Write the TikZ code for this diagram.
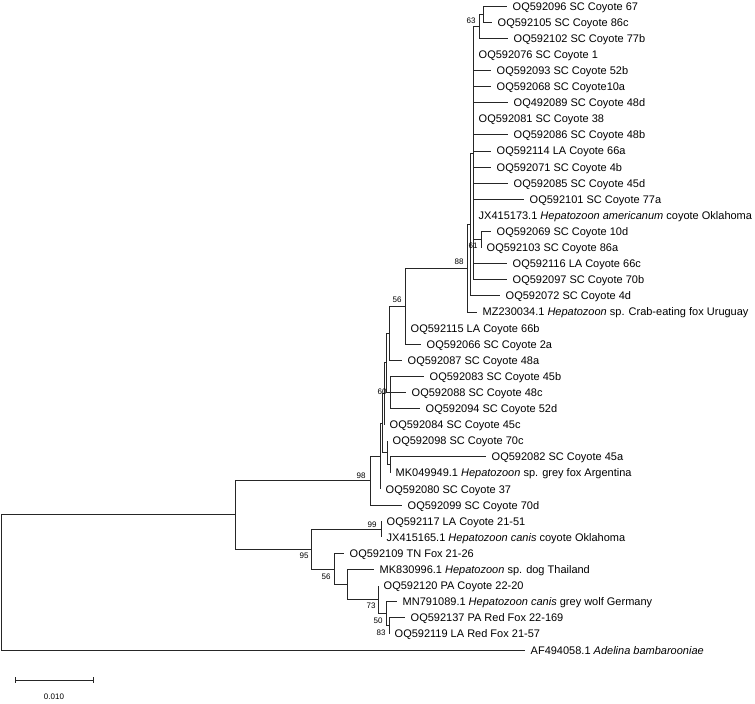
\documentclass[tikz,border=0pt]{standalone}
\usepackage{fontspec}
\setmainfont{Liberation Sans}
\begin{document}
\begin{tikzpicture}[x=1pt,y=-1pt,
  br/.style={line width=0.75pt, draw=black!85},
  leaf/.style={anchor=west, inner xsep=5.5pt, inner ysep=0pt, text height=8pt, text depth=0pt, font=\fontsize{11}{13}\selectfont},
  bs/.style={inner sep=0pt, font=\fontsize{8}{9}\selectfont}]
\useasboundingbox (0,0) rectangle (755,704);
% internal nodes
\coordinate (na) at (483,14.05);
\coordinate (n63) at (479,26.1);
\coordinate (n61) at (481,239.45);
\coordinate (N1) at (473,152.9);
\coordinate (N0) at (470,224.35);
\coordinate (N88) at (467,268.1);
\coordinate (U56) at (405,306.1);
\coordinate (V) at (389,333.15);
\coordinate (n60) at (390,392.4);
\coordinate (W) at (386,362.8);
\coordinate (X) at (384,393.7);
\coordinate (D) at (390,464.85);
\coordinate (E) at (387,452.8);
\coordinate (F) at (382,423.25);
\coordinate (C) at (380,456.1);
\coordinate (A98) at (370,480.6);
\coordinate (N83) at (389,625.85);
\coordinate (N50) at (386,613.8);
\coordinate (N73) at (378,599.7);
\coordinate (NX) at (347,584.6);
\coordinate (N56b) at (334,569.0);
\coordinate (N99) at (381,529.25);
\coordinate (B95) at (311,549.1);
\coordinate (I) at (235,514.85);
\coordinate (R) at (1,582.4);
% leaves
\node[leaf] (L1) at (507,6.0) {OQ592096 SC Coyote 67};
\node[leaf] (L2) at (492,22.1) {OQ592105 SC Coyote 86c};
\node[leaf] (L3) at (508,38.2) {OQ592102 SC Coyote 77b};
\node[leaf] (L4) at (473,54.3) {OQ592076 SC Coyote 1};
\node[leaf] (L5) at (491,70.4) {OQ592093 SC Coyote 52b};
\node[leaf] (L6) at (491,86.5) {OQ592068 SC Coyote10a};
\node[leaf] (L7) at (508,102.6) {OQ492089 SC Coyote 48d};
\node[leaf] (L8) at (473,118.7) {OQ592081 SC Coyote 38};
\node[leaf] (L9) at (508,134.8) {OQ592086 SC Coyote 48b};
\node[leaf] (L10) at (491,150.9) {OQ592114 LA Coyote 66a};
\node[leaf] (L11) at (491,167.0) {OQ592071 SC Coyote 4b};
\node[leaf] (L12) at (508,183.1) {OQ592085 SC Coyote 45d};
\node[leaf] (L13) at (524,199.2) {OQ592101 SC Coyote 77a};
\node[leaf] (L14) at (473,215.3) {JX415173.1 \textit{Hepatozoon americanum} coyote Oklahoma};
\node[leaf] (L15) at (491,231.4) {OQ592069 SC Coyote 10d};
\node[leaf] (L16) at (481,247.5) {OQ592103 SC Coyote 86a};
\node[leaf] (L17) at (507,263.6) {OQ592116 LA Coyote 66c};
\node[leaf] (L18) at (507,279.7) {OQ592097 SC Coyote 70b};
\node[leaf] (L19) at (500,295.8) {OQ592072 SC Coyote 4d};
\node[leaf] (L20) at (477,311.9) {MZ230034.1 \textit{Hepatozoon} sp. Crab-eating fox Uruguay};
\node[leaf] (L21) at (405,328.0) {OQ592115 LA Coyote 66b};
\node[leaf] (L22) at (421,344.1) {OQ592066 SC Coyote 2a};
\node[leaf] (L23) at (402,360.2) {OQ592087 SC Coyote 48a};
\node[leaf] (L24) at (424,376.3) {OQ592083 SC Coyote 45b};
\node[leaf] (L25) at (406,392.4) {OQ592088 SC Coyote 48c};
\node[leaf] (L26) at (420,408.5) {OQ592094 SC Coyote 52d};
\node[leaf] (L27) at (384,424.6) {OQ592084 SC Coyote 45c};
\node[leaf] (L28) at (387,440.7) {OQ592098 SC Coyote 70c};
\node[leaf] (L29) at (486,456.8) {OQ592082 SC Coyote 45a};
\node[leaf] (L30) at (390,472.9) {MK049949.1 \textit{Hepatozoon} sp. grey fox Argentina};
\node[leaf] (L31) at (380,489.0) {OQ592080 SC Coyote 37};
\node[leaf] (L32) at (402,505.1) {OQ592099 SC Coyote 70d};
\node[leaf] (L33) at (381,521.2) {OQ592117 LA Coyote 21-51};
\node[leaf] (L34) at (381,537.3) {JX415165.1 \textit{Hepatozoon canis} coyote Oklahoma};
\node[leaf] (L35) at (344,553.4) {OQ592109 TN Fox 21-26};
\node[leaf] (L36) at (374,569.5) {MK830996.1 \textit{Hepatozoon} sp. dog Thailand};
\node[leaf] (L37) at (378,585.6) {OQ592120 PA Coyote 22-20};
\node[leaf] (L38) at (397,601.7) {MN791089.1 \textit{Hepatozoon canis} grey wolf Germany};
\node[leaf] (L39) at (405,617.8) {OQ592137 PA Red Fox 22-169};
\node[leaf] (L40) at (389,633.9) {OQ592119 LA Red Fox 21-57};
\node[leaf] (L41) at (525,650.0) {AF494058.1 \textit{Adelina bambarooniae}};
% branches
\draw[br] (na) |- (L1.west); \draw[br] (na) |- (L2.west);
\draw[br] (n63) |- (na); \draw[br] (n63) |- (L3.west);
\draw[br] (N1) |- (n63);
\foreach \i in {4,...,14,17,18} {\draw[br] (N1) |- (L\i.west);}
\draw[br] (N1) |- (n61);
\draw[br] (n61) |- (L15.west); \draw[br] (n61) |- (L16.west);
\draw[br] (N0) |- (N1); \draw[br] (N0) |- (L19.west);
\draw[br] (N88) |- (N0); \draw[br] (N88) |- (L20.west);
\draw[br] (U56) |- (N88); \draw[br] (U56) |- (L21.west); \draw[br] (U56) |- (L22.west);
\draw[br] (V) |- (U56); \draw[br] (V) |- (L23.west);
\draw[br] (n60) |- (L24.west); \draw[br] (n60) |- (L25.west); \draw[br] (n60) |- (L26.west);
\draw[br] (W) |- (V); \draw[br] (W) |- (n60);
\draw[br] (X) |- (W); \draw[br] (X) |- (L27.west);
\draw[br] (D) |- (L29.west); \draw[br] (D) |- (L30.west);
\draw[br] (E) |- (L28.west); \draw[br] (E) |- (D);
\draw[br] (F) |- (X); \draw[br] (F) |- (E);
\draw[br] (C) |- (F); \draw[br] (C) |- (L31.west);
\draw[br] (A98) |- (C); \draw[br] (A98) |- (L32.west);
\draw[br] (N83) |- (L39.west); \draw[br] (N83) |- (L40.west);
\draw[br] (N50) |- (L38.west); \draw[br] (N50) |- (N83);
\draw[br] (N73) |- (L37.west); \draw[br] (N73) |- (N50);
\draw[br] (NX) |- (L36.west); \draw[br] (NX) |- (N73);
\draw[br] (N56b) |- (L35.west); \draw[br] (N56b) |- (NX);
\draw[br] (N99) |- (L33.west); \draw[br] (N99) |- (L34.west);
\draw[br] (B95) |- (N99); \draw[br] (B95) |- (N56b);
\draw[br] (I) |- (A98); \draw[br] (I) |- (B95);
\draw[br] (R) |- (I); \draw[br] (R) |- (L41.west);
% bootstrap values
\node[bs] (b63) at (471,21) {63};
\node[bs] (b61) at (473,246) {61};
\node[bs] (b88) at (459,262) {88};
\node[bs] (b56a) at (397,300) {56};
\node[bs] (b60) at (382,392) {60};
\node[bs] (b98) at (361,476) {98};
\node[bs] (b99) at (372,525) {99};
\node[bs] (b95) at (304,556) {95};
\node[bs] (b56b) at (326,577) {56};
\node[bs] (b73) at (371,606) {73};
\node[bs] (b50) at (378,621) {50};
\node[bs] (b83) at (381,633) {83};
% scale bar
\coordinate (sb1) at (15,680);
\coordinate (sb2) at (93,680);
\draw[br] (sb1) -- (sb2);
\draw[br] ([yshift=3pt]sb1) -- ([yshift=-3pt]sb1);
\draw[br] ([yshift=3pt]sb2) -- ([yshift=-3pt]sb2);
\node[bs] (sbl) at (54,697) {0.010};
\end{tikzpicture}
\end{document}
